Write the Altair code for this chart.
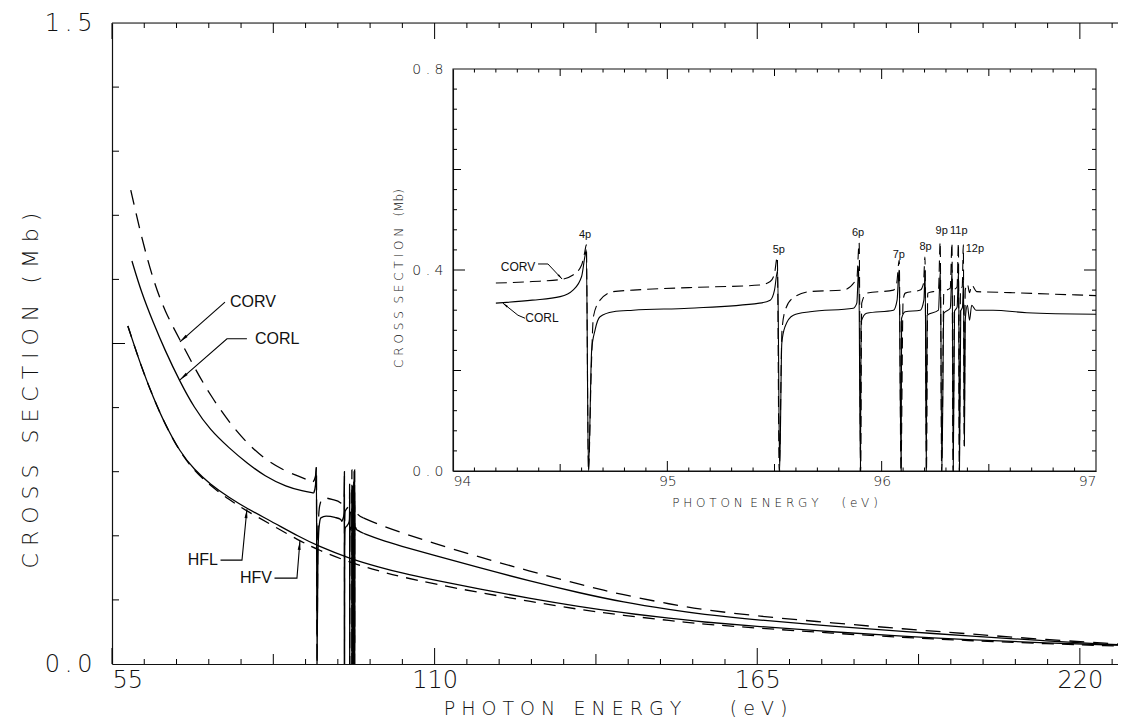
import altair as alt
import pandas as pd

# ---------------- data: main panel (photon energy in eV, cross section in Mb) ----------------
corv_pre_E = [58.2, 60.0, 62.0, 64.0, 66.6, 69.0, 71.7, 75.0, 78.0, 81.0, 84.0, 87.0, 89.3]
corv_pre_v = [1.109, 1.000, 0.899, 0.825, 0.758, 0.695, 0.630, 0.565, 0.517, 0.480, 0.455, 0.438, 0.426]
corv_res_E = [89.3, 89.7, 89.85, 89.95, 90.1, 90.4, 91.0, 92.5, 94.0]
corv_res_v = [0.426, 0.440, 0.461, 0.0, 0.300, 0.370, 0.389, 0.385, 0.377]
corv_post_E = [97.85, 100.7, 104.0, 110.0, 117.7, 126.0, 134.8, 142.0, 150.6, 155.2, 165.0, 177.9, 190.0, 200.7, 213.0, 226.5]
corv_post_v = [0.342, 0.325, 0.309, 0.282, 0.250, 0.218, 0.186, 0.162, 0.139, 0.128, 0.112, 0.096, 0.082, 0.071, 0.058, 0.047]

corl_pre_E = [58.4, 60.0, 62.0, 64.0, 66.6, 69.0, 71.7, 75.0, 78.0, 81.0, 84.8, 87.5, 89.4]
corl_pre_v = [0.943, 0.870, 0.800, 0.735, 0.660, 0.600, 0.548, 0.505, 0.470, 0.440, 0.414, 0.405, 0.400]
corl_res_E = [89.4, 89.7, 89.85, 89.95, 90.1, 90.3, 90.6, 91.5, 93.0, 94.0]
corl_res_v = [0.400, 0.420, 0.460, 0.0, 0.250, 0.320, 0.342, 0.346, 0.343, 0.338]
corl_post_E = [97.85, 100.7, 104.0, 110.0, 117.7, 126.0, 134.8, 142.0, 150.6, 155.2, 165.0, 177.9, 190.0, 200.7, 213.0, 226.5]
corl_post_v = [0.306, 0.291, 0.277, 0.254, 0.225, 0.195, 0.166, 0.145, 0.126, 0.117, 0.103, 0.088, 0.076, 0.066, 0.055, 0.045]

hf_E = [57.7, 60.0, 62.0, 64.0, 66.6, 69.0, 71.7, 75.0, 78.0, 82.0, 87.0, 90.0, 95.6, 100.7, 104.0, 110.0, 117.7, 126.0, 134.8, 142.0, 150.6, 155.2, 165.0, 177.9, 190.0, 200.7, 213.0, 226.5]
hfl_v = [0.791, 0.695, 0.625, 0.562, 0.496, 0.455, 0.421, 0.389, 0.364, 0.335, 0.297, 0.277, 0.246, 0.226, 0.214, 0.196, 0.175, 0.154, 0.134, 0.120, 0.106, 0.099, 0.088, 0.075, 0.065, 0.057, 0.050, 0.044]
hfv_v = [0.791, 0.695, 0.625, 0.562, 0.495, 0.453, 0.418, 0.384, 0.358, 0.327, 0.288, 0.268, 0.237, 0.217, 0.205, 0.187, 0.167, 0.147, 0.127, 0.114, 0.101, 0.094, 0.084, 0.072, 0.062, 0.055, 0.048, 0.042]

# ---------------- data: inset (94-97 eV, np resonances) ----------------
ins_corv_E = [94.20, 94.37, 94.50, 94.56, 94.60, 94.615, 94.622, 94.632, 94.645, 94.655, 94.686, 94.747, 94.84, 95.10, 95.43,
              95.48, 95.50, 95.513, 95.522, 95.535, 95.55, 95.588, 95.666, 95.82, 95.884, 95.895, 95.902, 95.907, 95.93,
              96.055, 96.07, 96.082, 96.09, 96.10, 96.11, 96.18, 96.195, 96.202, 96.209, 96.215, 96.265, 96.273, 96.28,
              96.29, 96.32, 96.328, 96.333, 96.34, 96.352, 96.358, 96.362, 96.368, 96.376, 96.381, 96.385, 96.39, 96.40,
              96.41, 96.42, 96.443, 96.6, 96.8, 97.0]
ins_corv_v = [0.374, 0.377, 0.381, 0.390, 0.410, 0.436, 0.450, 0.0, 0.200, 0.307, 0.340, 0.357, 0.360, 0.365, 0.370,
              0.377, 0.393, 0.426, 0.0, 0.280, 0.320, 0.345, 0.357, 0.360, 0.383, 0.454, 0.0, 0.334, 0.354,
              0.360, 0.373, 0.420, 0.0, 0.340, 0.354, 0.360, 0.373, 0.426, 0.0, 0.354, 0.360, 0.456, 0.0,
              0.357, 0.364, 0.454, 0.0, 0.360, 0.367, 0.454, 0.0, 0.362, 0.367, 0.450, 0.050, 0.360, 0.372,
              0.355, 0.370, 0.357, 0.355, 0.352, 0.349]
ins_corl_E = [94.20, 94.37, 94.50, 94.56, 94.60, 94.615, 94.622, 94.632, 94.647, 94.663, 94.686, 94.748, 94.84, 95.10, 95.43,
              95.48, 95.50, 95.515, 95.524, 95.534, 95.549, 95.588, 95.666, 95.868, 95.884, 95.893, 95.901, 95.904, 95.93,
              96.055, 96.072, 96.081, 96.091, 96.093, 96.11, 96.18, 96.197, 96.203, 96.208, 96.212, 96.265, 96.274, 96.281,
              96.29, 96.32, 96.329, 96.334, 96.34, 96.352, 96.359, 96.363, 96.369, 96.377, 96.382, 96.386, 96.39, 96.40,
              96.41, 96.42, 96.44, 96.52, 96.677, 97.0]
ins_corl_v = [0.334, 0.340, 0.347, 0.360, 0.387, 0.426, 0.440, 0.0, 0.241, 0.281, 0.307, 0.317, 0.320, 0.324, 0.334,
              0.340, 0.360, 0.400, 0.0, 0.254, 0.287, 0.310, 0.317, 0.324, 0.334, 0.407, 0.0, 0.297, 0.314,
              0.320, 0.340, 0.400, 0.0, 0.304, 0.317, 0.320, 0.340, 0.400, 0.0, 0.310, 0.320, 0.400, 0.0,
              0.314, 0.324, 0.400, 0.0, 0.318, 0.326, 0.400, 0.0, 0.318, 0.326, 0.380, 0.050, 0.300, 0.330,
              0.300, 0.330, 0.320, 0.320, 0.315, 0.312]

peak_labels = ["4p", "5p", "6p", "7p", "8p", "9p", "11p", "12p"]
peak_E = [94.616, 95.52, 95.89, 96.08, 96.205, 96.28, 96.36, 96.435]
peak_v = [0.470, 0.440, 0.474, 0.430, 0.446, 0.478, 0.478, 0.442]

# annotations (main panel)
main_lab_left = ["CORV", "CORL"]
main_lab_left_E = [74.77, 79.03]
main_lab_left_v = [0.847, 0.761]
main_lab_right = ["HFL", "HFV"]
main_lab_right_E = [73.07, 82.27]
main_lab_right_v = [0.243, 0.201]
lead_id = ["CORV", "CORV", "CORL", "CORL", "CORL", "HFL", "HFL", "HFL", "HFV", "HFV", "HFV"]
lead_E = [74.26, 66.59, 78.0, 74.6, 66.59, 73.5, 77.16, 78.0, 82.7, 86.53, 87.04]
lead_v = [0.847, 0.754, 0.761, 0.761, 0.665, 0.243, 0.243, 0.362, 0.201, 0.201, 0.288]
tip_E = [66.59, 66.59, 78.0, 87.04]
tip_v = [0.754, 0.665, 0.362, 0.288]
tip_angle = [228, 229, 6, 5]

# annotations (inset)
ins_lab = ["CORV", "CORL"]
ins_lab_E = [94.303, 94.415]
ins_lab_v = [0.406, 0.304]
ins_lead_id = ["V", "V", "V", "L", "L", "L"]
ins_lead_E = [94.397, 94.443, 94.509, 94.336, 94.303, 94.233]
ins_lead_v = [0.412, 0.412, 0.382, 0.304, 0.310, 0.334]
ins_tip_E = [94.509, 94.233]
ins_tip_v = [0.382, 0.334]
ins_tip_angle = [137, 309]

# tick positions
mx_major = [55, 110, 165, 220]
mx_mid = [82.5, 137.5, 192.5]
mx_minor = [60.5, 66, 71.5, 77, 88, 93.5, 99, 104.5, 115.5, 121, 126.5, 132, 143, 148.5, 154, 159.5,
            170.5, 176, 181.5, 187, 198, 203.5, 209, 214.5, 225.5]
my_mid = [0.75]
my_minor = [0.15, 0.3, 0.45, 0.6, 0.9, 1.05, 1.2, 1.35]
ix_major = [95, 96]
ix_mid = [94.5, 95.5, 96.5]
ix_minor = [94.1, 94.2, 94.3, 94.4, 94.6, 94.7, 94.8, 94.9, 95.1, 95.2, 95.3, 95.4, 95.6, 95.7, 95.8, 95.9,
            96.1, 96.2, 96.3, 96.4, 96.6, 96.7, 96.8, 96.9]
iy_major = [0.4]
iy_mid = [0.2, 0.6]
iy_minor = [0.04, 0.08, 0.12, 0.16, 0.24, 0.28, 0.32, 0.36, 0.44, 0.48, 0.52, 0.56, 0.64, 0.68, 0.72, 0.76]

# ---------------- scales / axes ----------------
FONT = "DejaVu Sans"
INK = "#111111"
W, H = 1006, 641
XMAX = 226.5
NB = "\u00a0"

xs_main = alt.Scale(domain=[55, XMAX], nice=False, zero=False)
ys_main = alt.Scale(domain=[0, 1.5], nice=False, zero=False)
ax_x_main = alt.Axis(values=mx_major, ticks=False, grid=False, domainColor=INK, domainWidth=1.2,
                     labelFont=FONT, labelFontSize=24, labelColor=INK, labelPadding=4, format="d",
                     labelFontWeight=300,
                     title="P H O T O N" + NB * 3 + "E N E R G Y" + NB * 8 + "( e V )",
                     titleFont=FONT, titleFontSize=19,
                     titleFontWeight=300, titleColor=INK, titleY=44, titleAlign="center",
                     titleBaseline="middle")
ax_y_main = alt.Axis(values=[0, 1.5], ticks=False, grid=False, domainColor=INK, domainWidth=1.2,
                     labelFont=FONT, labelFontSize=24, labelColor=INK, labelPadding=20, labelFontWeight=300,
                     labelExpr="datum.value == 0 ? '0\u2009.\u20090' : '1\u2009.\u20095'",
                     title="C R O S S" + NB * 3 + "S E C T I O N" + NB * 3 + "( M b )",
                     titleFont=FONT, titleFontSize=22,
                     titleFontWeight=300, titleColor=INK, titleX=-82, titleY=367, titleAngle=-90,
                     titleAlign="center", titleBaseline="middle")

xs_ins = alt.Scale(domain=[94, 97], nice=False, zero=False, range=[341, 984])
ys_ins = alt.Scale(domain=[0, 0.8], nice=False, zero=False, range=[448, 46])
ax_x_ins = alt.Axis(orient="bottom", offset=-193, values=[94, 95, 96, 97], ticks=False, grid=False,
                    domainColor=INK, domainWidth=1.1, labelFont=FONT, labelFontSize=14, labelColor=INK,
                    labelPadding=3, format="d", labelFontWeight=300,
                    title="P H O T O N" + NB * 2 + "E N E R G Y" + NB * 6 + "( e V )",
                    titleFont=FONT, titleFontSize=12,
                    titleFontWeight=300, titleColor=INK, titleY=31, titleAlign="center",
                    titleBaseline="middle")
ax_y_ins = alt.Axis(orient="left", offset=-341, values=[0, 0.4, 0.8], ticks=False, grid=False,
                    domainColor=INK, domainWidth=1.1, labelFont=FONT, labelFontSize=14, labelColor=INK,
                    labelPadding=10, labelFontWeight=300,
                    labelExpr="replace(format(datum.value, '.1f'), '.', ' . ')",
                    title="C R O S S" + NB * 2 + "S E C T I O N" + NB * 3 + "(Mb)",
                    titleFont=FONT, titleFontSize=12,
                    titleFontWeight=300, titleColor=INK, titleX=-55, titleY=255, titleAngle=-90,
                    titleAlign="center", titleBaseline="middle")


def XM(f):
    return alt.X(f, type="quantitative", scale=xs_main, axis=ax_x_main)


def YM(f):
    return alt.Y(f, type="quantitative", scale=ys_main, axis=ax_y_main)


def XI(f):
    return alt.X(f, type="quantitative", scale=xs_ins, axis=ax_x_ins)


def YI(f):
    return alt.Y(f, type="quantitative", scale=ys_ins, axis=ax_y_ins)


def curve(E, v, X, Y, dash=None, width=1.3, interp="monotone"):
    df = pd.DataFrame({"E": E, "v": v, "i": list(range(len(E)))})
    props = dict(color="black", strokeWidth=width, interpolate=interp, clip=True)
    if dash:
        props["strokeDash"] = dash
    return alt.Chart(df).mark_line(**props).encode(x=X("E"), y=Y("v"), order="i:Q")


def vticks(vals, vpos, length, X, Y):
    df = pd.DataFrame({"E": vals, "v": [vpos] * len(vals)})
    return alt.Chart(df).mark_rule(color="black", strokeWidth=1, y2Offset=length).encode(
        x=X("E"), y=Y("v"), y2=alt.Y2("v"))


def hticks(vals, epos, length, X, Y):
    df = pd.DataFrame({"v": vals, "E": [epos] * len(vals)})
    return alt.Chart(df).mark_rule(color="black", strokeWidth=1, x2Offset=length).encode(
        y=Y("v"), x=X("E"), x2=alt.X2("E"))


ARROW = "M0,0L0.28,1.7L-0.28,1.7Z"

# ---------------- main panel layers ----------------
main_layers = [
    curve(corv_pre_E, corv_pre_v, XM, YM, dash=[15, 9], interp="basis"),
    curve(corv_res_E + ins_corv_E + corv_post_E[:1], corv_res_v + ins_corv_v + corv_post_v[:1], XM, YM, dash=[15, 9]),
    curve(corv_post_E, corv_post_v, XM, YM, dash=[15, 9], interp="basis"),
    curve(corl_pre_E, corl_pre_v, XM, YM, interp="basis"),
    curve(corl_res_E + ins_corl_E + corl_post_E[:1], corl_res_v + ins_corl_v + corl_post_v[:1], XM, YM),
    curve(corl_post_E, corl_post_v, XM, YM, interp="basis"),
    curve(hf_E, hfl_v, XM, YM, interp="basis"),
    curve(hf_E, hfv_v, XM, YM, dash=[12, 8], interp="basis"),
]
# top border
main_layers.append(
    alt.Chart(pd.DataFrame({"E": [55], "E2": [XMAX], "v": [1.5]})).mark_rule(color=INK, strokeWidth=1.2).encode(
        x=XM("E"), x2=alt.X2("E2"), y=YM("v")))
# inward ticks
for vals, L in [(mx_minor, 5), (mx_mid, 10), (mx_major, 16)]:
    main_layers.append(vticks(vals, 0, -L, XM, YM))
    main_layers.append(vticks(vals, 1.5, L, XM, YM))
for vals, L in [(my_minor, 7), (my_mid, 13)]:
    main_layers.append(hticks(vals, 55, L, XM, YM))
# annotations
main_layers.append(
    alt.Chart(pd.DataFrame({"E": lead_E, "v": lead_v, "g": lead_id, "i": list(range(len(lead_E)))}))
    .mark_line(color="black", strokeWidth=1.1).encode(x=XM("E"), y=YM("v"), detail="g:N", order="i:Q"))
main_layers.append(
    alt.Chart(pd.DataFrame({"E": tip_E, "v": tip_v, "a": tip_angle}))
    .mark_point(shape=ARROW, filled=True, color="black", size=110, opacity=1)
    .encode(x=XM("E"), y=YM("v"), angle=alt.Angle("a:Q", scale=None)))
main_layers.append(
    alt.Chart(pd.DataFrame({"E": main_lab_left_E, "v": main_lab_left_v, "t": main_lab_left}))
    .mark_text(align="left", baseline="middle", font="Liberation Sans", fontSize=16, color=INK, dx=2)
    .encode(x=XM("E"), y=YM("v"), text="t:N"))
main_layers.append(
    alt.Chart(pd.DataFrame({"E": main_lab_right_E, "v": main_lab_right_v, "t": main_lab_right}))
    .mark_text(align="right", baseline="middle", font="Liberation Sans", fontSize=16, color=INK)
    .encode(x=XM("E"), y=YM("v"), text="t:N"))

main = alt.layer(*main_layers)

# ---------------- inset layers ----------------
ins_layers = [
    alt.Chart(pd.DataFrame({"E": [94], "E2": [97], "v": [0], "v2": [0.8]}))
    .mark_rect(filled=False, color=INK, strokeWidth=1.1)
    .encode(x=XI("E"), x2=alt.X2("E2"), y=YI("v"), y2=alt.Y2("v2")),
    curve(ins_corv_E, ins_corv_v, XI, YI, dash=[11, 6], width=1.1),
    curve(ins_corl_E, ins_corl_v, XI, YI, width=1.1),
]
for vals, L in [(ix_minor, 3.5), (ix_mid, 7), (ix_major, 10)]:
    ins_layers.append(vticks(vals, 0, -L, XI, YI))
    ins_layers.append(vticks(vals, 0.8, L, XI, YI))
for vals, L in [(iy_minor, 4), (iy_mid, 8), (iy_major, 12)]:
    ins_layers.append(hticks(vals, 94, L, XI, YI))
    ins_layers.append(hticks(vals, 97, -L, XI, YI))
ins_layers.append(
    alt.Chart(pd.DataFrame({"E": peak_E, "v": peak_v, "t": peak_labels}))
    .mark_text(align="center", baseline="middle", font="Liberation Sans", fontSize=11, color=INK)
    .encode(x=XI("E"), y=YI("v"), text="t:N"))
ins_layers.append(
    alt.Chart(pd.DataFrame({"E": ins_lead_E, "v": ins_lead_v, "g": ins_lead_id, "i": list(range(len(ins_lead_E)))}))
    .mark_line(color="black", strokeWidth=1).encode(x=XI("E"), y=YI("v"), detail="g:N", order="i:Q"))
ins_layers.append(
    alt.Chart(pd.DataFrame({"E": ins_tip_E, "v": ins_tip_v, "a": ins_tip_angle}))
    .mark_point(shape=ARROW, filled=True, color="black", size=45, opacity=1)
    .encode(x=XI("E"), y=YI("v"), angle=alt.Angle("a:Q", scale=None)))
ins_layers.append(
    alt.Chart(pd.DataFrame({"E": ins_lab_E, "v": ins_lab_v, "t": ins_lab}))
    .mark_text(align="center", baseline="middle", font="Liberation Sans", fontSize=12, color=INK)
    .encode(x=XI("E"), y=YI("v"), text="t:N"))

inset = alt.layer(*ins_layers)

chart = (
    alt.layer(main, inset)
    .resolve_scale(x="independent", y="independent")
    .properties(width=W, height=H, autosize=alt.AutoSizeParams(type="none"),
                padding={"left": 104, "top": 15, "right": 0, "bottom": 53})
    .configure_view(stroke=None)
    .configure(background="white")
)

chart.save("out.html", embed_options={"renderer": "svg", "actions": False})
